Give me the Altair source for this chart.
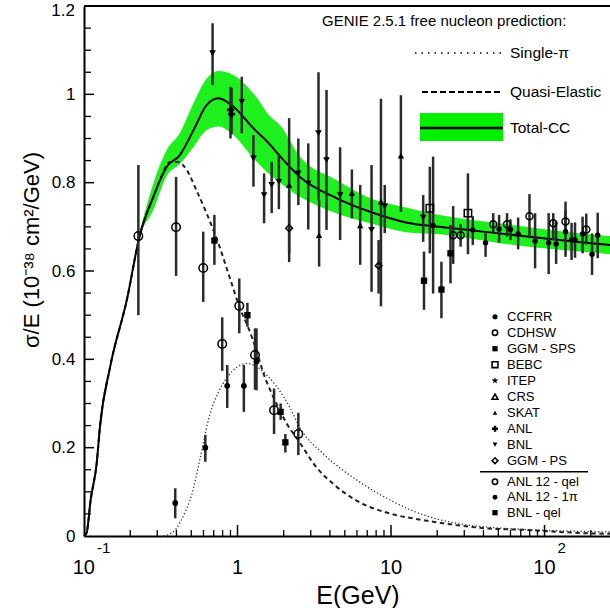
import altair as alt
import pandas as pd

FONT = "Liberation Sans"
GREEN = "#1ef01e"

# ---------------- GENIE predictions ----------------
E_tot = [0.1, 0.104, 0.1105, 0.121, 0.127, 0.148, 0.19, 0.231, 0.283, 0.346, 0.42, 0.517, 0.63,
         0.75, 0.94, 1.27, 1.64, 1.89, 2.55, 4.4, 7.3, 12.5, 20.7, 51, 229, 267]
tot = [0.0, 0.007, 0.082, 0.165, 0.247, 0.383, 0.534, 0.681, 0.768, 0.836, 0.862, 0.919, 0.976,
       0.991, 0.972, 0.923, 0.885, 0.86, 0.813, 0.765, 0.734, 0.71, 0.70, 0.685, 0.661, 0.659]
band_lo = [0.0, 0.007, 0.08, 0.163, 0.245, 0.38, 0.53, 0.676, 0.738, 0.815, 0.842, 0.881, 0.919,
           0.927, 0.908, 0.855, 0.817, 0.80, 0.768, 0.731, 0.708, 0.688, 0.683, 0.663, 0.64, 0.638]
band_hi = [0.0, 0.008, 0.084, 0.167, 0.25, 0.386, 0.54, 0.687, 0.798, 0.874, 0.912, 0.98, 1.036,
           1.053, 1.044, 1.002, 0.949, 0.93, 0.859, 0.806, 0.765, 0.744, 0.727, 0.708, 0.681, 0.679]

E_qe = [0.1, 0.104, 0.1105, 0.121, 0.127, 0.148, 0.19, 0.231, 0.283, 0.32, 0.363, 0.41, 0.466, 0.54,
        0.63, 0.75, 0.89, 1.04, 1.18, 1.33, 1.47, 1.71, 2.09, 2.54, 3.26, 4.2, 5.97, 9.8, 16.2,
        26.4, 43, 72, 197, 267]
qe = [0.0, 0.007, 0.082, 0.165, 0.247, 0.383, 0.534, 0.681, 0.768, 0.815, 0.847, 0.847, 0.829, 0.783,
      0.73, 0.663, 0.585, 0.515, 0.47, 0.42, 0.37, 0.315, 0.255, 0.212, 0.156, 0.118, 0.08, 0.051,
      0.036, 0.025, 0.017, 0.014, 0.006, 0.005]

E_sp = [0.33, 0.36, 0.4, 0.45, 0.5, 0.57, 0.66, 0.75, 0.85, 1.0, 1.15, 1.4, 1.8, 2.2, 2.55, 3.6,
        5.97, 9.8, 16.2, 26.4, 43, 72, 197, 267]
sp = [0.0, 0.004, 0.017, 0.05, 0.09, 0.175, 0.275, 0.325, 0.358, 0.383, 0.391, 0.378, 0.338, 0.29,
      0.245, 0.187, 0.127, 0.082, 0.048, 0.029, 0.02, 0.015, 0.01, 0.009]

# ---------------- measurements ----------------
bnl_E = [0.688, 1.066, 1.27, 1.49, 1.67, 1.86, 2.49, 2.89, 3.37, 3.8, 4.66, 7.47, 9.1, 16.2]
bnl_y = [1.093, 0.983, 0.855, 0.772, 0.795, 0.802, 0.821, 0.798, 0.912, 0.851, 0.772, 0.693, 0.746, 0.721]
bnl_lo = [1.021, 0.912, 0.791, 0.708, 0.731, 0.740, 0.749, 0.694, 0.761, 0.693, 0.670, 0.553, 0.686, 0.666]
bnl_hi = [1.161, 1.040, 0.908, 0.821, 0.847, 0.866, 0.900, 0.889, 1.050, 1.010, 0.880, 0.840, 0.795, 0.772]

skat_E = [2.17, 3.4, 5.56, 6.3, 8.6, 11.6]
skat_y = [0.795, 0.681, 0.777, 0.703, 0.757, 0.861]
skat_lo = [0.64, 0.61, 0.719, 0.614, 0.52, 0.734]
skat_hi = [0.946, 0.761, 0.83, 0.795, 0.99, 0.998]

anl_E = [0.90, 0.915]
anl_y = [0.965, 0.955]
anl_lo = [0.90, 0.91]
anl_hi = [1.017, 1.015]

ggmps_E = [2.17, 8.3]
ggmps_y = [0.697, 0.612]
ggmps_lo = [0.62, 0.549]
ggmps_hi = [0.78, 0.67]

ccfrr_E = [18.8, 34.1, 41.3, 50.6, 60, 67.3, 86.8, 106.4, 119, 137, 150, 158, 177, 204, 222]
ccfrr_y = [0.703, 0.693, 0.664, 0.695, 0.694, 0.684, 0.668, 0.664, 0.661, 0.689, 0.67, 0.67, 0.684, 0.638, 0.681]
ccfrr_lo = [0.549, 0.659, 0.632, 0.664, 0.670, 0.649, 0.606, 0.593, 0.616, 0.632, 0.625, 0.63, 0.64, 0.591, 0.629]
ccfrr_hi = [0.859, 0.724, 0.689, 0.727, 0.717, 0.721, 0.731, 0.731, 0.712, 0.738, 0.709, 0.71, 0.723, 0.685, 0.732]

cdhsw_E = [25.4, 28.4, 46.3, 57, 79.8, 114, 137, 187]
cdhsw_y = [0.681, 0.681, 0.706, 0.706, 0.724, 0.708, 0.712, 0.694]
cdhsw_lo = [0.616, 0.655, 0.685, 0.678, 0.674, 0.670, 0.689, 0.66]
cdhsw_hi = [0.747, 0.706, 0.731, 0.731, 0.774, 0.731, 0.757, 0.73]

bebc_E = [17.9, 31.7]
bebc_y = [0.742, 0.731]
bebc_lo = [0.64, 0.638]
bebc_hi = [0.836, 0.821]

ggmsps_E = [16.4, 21.3, 24.4]
ggmsps_y = [0.578, 0.558, 0.64]
ggmsps_lo = [0.512, 0.493, 0.572]
ggmsps_hi = [0.644, 0.621, 0.704]

anlqel_E = [0.226, 0.398, 0.598, 0.795, 1.027, 1.30, 1.73, 2.49]
anlqel_y = [0.679, 0.699, 0.607, 0.435, 0.521, 0.410, 0.285, 0.231]
anlqel_lo = [0.50, 0.589, 0.53, 0.374, 0.459, 0.331, 0.231, 0.183]
anlqel_hi = [0.84, 0.813, 0.689, 0.495, 0.583, 0.470, 0.334, 0.279]

bnlqel_E = [0.707, 1.16, 1.91, 2.05]
bnlqel_y = [0.669, 0.500, 0.281, 0.212]
bnlqel_lo = [0.614, 0.474, 0.263, 0.189]
bnlqel_hi = [0.727, 0.528, 0.30, 0.231]

anl1pi_E = [0.393, 0.617, 0.857, 1.10, 1.33]
anl1pi_y = [0.075, 0.200, 0.340, 0.340, 0.395]
anl1pi_lo = [0.04, 0.168, 0.29, 0.281, 0.33]
anl1pi_hi = [0.108, 0.229, 0.387, 0.387, 0.47]

legend_top = ["CCFRR", "CDHSW", "GGM - SPS", "BEBC", "ITEP", "CRS", "SKAT", "ANL", "BNL", "GGM - PS"]
legend_bot = ["ANL 12 - qel", "ANL 12 - 1\u03c0", "BNL - qel"]

y_labels = [0, 0.2, 0.4, 0.6, 0.8, 1.0]
x_ticks_major = [1, 10, 100]
x_ticks_minor = [0.2, 0.3, 0.4, 0.5, 0.6, 0.7, 0.8, 0.9, 2, 3, 4, 5, 6, 7, 8, 9,
                 20, 30, 40, 50, 60, 70, 80, 90, 200]
y_ticks_major = [0.2, 0.4, 0.6, 0.8, 1.0]
y_ticks_minor = [0.05, 0.1, 0.15, 0.25, 0.3, 0.35, 0.45, 0.5, 0.55, 0.65, 0.7, 0.75,
                 0.85, 0.9, 0.95, 1.05, 1.1, 1.15]

# ---------------- styles ----------------
STAR = "M0,-1L0.235,-0.324L0.951,-0.309L0.38,0.124L0.588,0.809L0,0.4L-0.588,0.809L-0.38,0.124L-0.951,-0.309L-0.235,-0.324Z"
style = {
    "CCFRR": ("circle", True, 30),
    "CDHSW": ("circle", False, 50),
    "GGM - SPS": ("square", True, 40),
    "BEBC": ("square", False, 55),
    "ITEP": (STAR, True, 45),
    "CRS": ("triangle-up", False, 45),
    "SKAT": ("triangle-up", True, 42),
    "ANL": ("cross", True, 50),
    "BNL": ("triangle-down", True, 45),
    "GGM - PS": ("diamond", False, 45),
    "ANL 12 - qel": ("circle", False, 72),
    "ANL 12 - 1\u03c0": ("circle", True, 34),
    "BNL - qel": ("square", True, 40),
}
legend_size = {
    "CCFRR": 26, "CDHSW": 28, "GGM - SPS": 28, "BEBC": 34, "ITEP": 50, "CRS": 34,
    "SKAT": 22, "ANL": 36, "BNL": 24, "GGM - PS": 34,
    "ANL 12 - qel": 28, "ANL 12 - 1\u03c0": 24, "BNL - qel": 28,
}

series = [
    ("BNL", bnl_E, bnl_y, bnl_lo, bnl_hi),
    ("SKAT", skat_E, skat_y, skat_lo, skat_hi),
    ("ANL", anl_E, anl_y, anl_lo, anl_hi),
    ("GGM - PS", ggmps_E, ggmps_y, ggmps_lo, ggmps_hi),
    ("CCFRR", ccfrr_E, ccfrr_y, ccfrr_lo, ccfrr_hi),
    ("CDHSW", cdhsw_E, cdhsw_y, cdhsw_lo, cdhsw_hi),
    ("BEBC", bebc_E, bebc_y, bebc_lo, bebc_hi),
    ("GGM - SPS", ggmsps_E, ggmsps_y, ggmsps_lo, ggmsps_hi),
    ("ANL 12 - qel", anlqel_E, anlqel_y, anlqel_lo, anlqel_hi),
    ("BNL - qel", bnlqel_E, bnlqel_y, bnlqel_lo, bnlqel_hi),
    ("ANL 12 - 1\u03c0", anl1pi_E, anl1pi_y, anl1pi_lo, anl1pi_hi),
]

xscale = alt.Scale(type="log", domain=[0.1, 267], nice=False)
yscale = alt.Scale(domain=[0, 1.2], nice=False, zero=False)
W, H = 526, 530

xaxis = alt.Axis(labels=False, ticks=False, grid=False, domain=True, domainColor="black",
                 domainWidth=2, title=None)
yaxis = alt.Axis(values=y_labels, format="~g", ticks=False, grid=False,
                 domain=True, domainColor="black", domainWidth=2, labelFont=FONT, labelFontSize=17,
                 labelColor="black", labelPadding=9, title=None)


def X(field):
    return alt.X(field, scale=xscale, axis=xaxis)


def Y(field):
    return alt.Y(field, scale=yscale, axis=yaxis)


df_tot = pd.DataFrame({"E": E_tot, "tot": tot, "lo": band_lo, "hi": band_hi})
df_qe = pd.DataFrame({"E": E_qe, "v": qe})
df_sp = pd.DataFrame({"E": E_sp, "v": sp})

layers = []
layers.append(alt.Chart(df_tot).mark_area(color=GREEN, interpolate="monotone").encode(
    x=X("E:Q"), y=Y("lo:Q"), y2="hi:Q"))
layers.append(alt.Chart(df_sp).mark_line(color="#333", strokeWidth=1.3, strokeDash=[1.3, 2.2],
                                        interpolate="monotone").encode(x=X("E:Q"), y=Y("v:Q")))
layers.append(alt.Chart(df_qe).mark_line(color="#222", strokeWidth=2, strokeDash=[4.5, 3.5],
                                        interpolate="monotone").encode(x=X("E:Q"), y=Y("v:Q")))
layers.append(alt.Chart(df_tot).mark_line(color="black", strokeWidth=2, interpolate="monotone").encode(
    x=X("E:Q"), y=Y("tot:Q")))

# axis ticks (inward)
layers.append(alt.Chart(pd.DataFrame({"E": x_ticks_major})).mark_rule(color="black", strokeWidth=1.5).encode(
    x=X("E:Q"), y=alt.value(H), y2=alt.value(H - 11)))
layers.append(alt.Chart(pd.DataFrame({"E": x_ticks_minor})).mark_rule(color="black", strokeWidth=1.3).encode(
    x=X("E:Q"), y=alt.value(H), y2=alt.value(H - 6)))
layers.append(alt.Chart(pd.DataFrame({"v": y_ticks_major})).mark_rule(color="black", strokeWidth=1.5).encode(
    y=Y("v:Q"), x=alt.value(0), x2=alt.value(10)))
layers.append(alt.Chart(pd.DataFrame({"v": y_ticks_minor})).mark_rule(color="black", strokeWidth=1.3).encode(
    y=Y("v:Q"), x=alt.value(0), x2=alt.value(7)))

one = pd.DataFrame({"k": [0]})
# top frame
layers.append(alt.Chart(one).mark_rule(color="black", strokeWidth=2).encode(
    x=alt.value(0), x2=alt.value(W), y=alt.value(0)))

# error bars then markers
for name, E, y, lo, hi in series:
    d = pd.DataFrame({"E": E, "y": y, "lo": lo, "hi": hi})
    layers.append(alt.Chart(d).mark_rule(color="#2b2b2b", strokeWidth=2.5).encode(
        x=X("E:Q"), y=Y("lo:Q"), y2="hi:Q"))
for name, E, y, lo, hi in series:
    shape, filled, size = style[name]
    d = pd.DataFrame({"E": E, "y": y})
    layers.append(alt.Chart(d).mark_point(shape=shape, filled=filled, size=size, color="black",
                                          strokeWidth=1.5, opacity=1).encode(
        x=X("E:Q"), y=Y("y:Q")))


def txt(label, px, py, size, align="left", angle=0):
    return alt.Chart(one).mark_text(text=label, font=FONT, fontSize=size, align=align,
                                    baseline="middle", angle=angle, color="black").encode(
        x=alt.value(px), y=alt.value(py))


# top y label, kept inside the picture as in the reference
layers.append(txt("1.2", -9, 5, 17, align="right"))

# x tick labels
xl = pd.DataFrame({"E": [1, 10], "t": ["1", "10"]})
layers.append(alt.Chart(xl).mark_text(font=FONT, fontSize=20, align="center", baseline="middle",
                                      color="black").encode(
    x=X("E:Q"), y=alt.value(562), text="t:N"))
xe = pd.DataFrame({"E": [0.1, 100], "b": ["10", "10"], "p": ["-1", "2"]})
layers.append(alt.Chart(xe).mark_text(font=FONT, fontSize=20, align="right", baseline="middle",
                                      dx=11, color="black").encode(
    x=X("E:Q"), y=alt.value(562), text="b:N"))
layers.append(alt.Chart(xe).mark_text(font=FONT, fontSize=15, align="left", baseline="middle",
                                      dx=13, color="black").encode(
    x=X("E:Q"), y=alt.value(542), text="p:N"))

# axis titles
layers.append(txt("E(GeV)", 274, 590, 25, align="center"))
layers.append(txt("\u03c3/E (10\u207b\u00b3\u2078 cm\u00b2/GeV)", -52, 244, 22, align="center", angle=270))

# top legend
layers.append(txt("GENIE 2.5.1  free nucleon prediction:", 238, 15, 15))
layers.append(alt.Chart(one).mark_rule(color="black", strokeWidth=1.5, strokeDash=[1.5, 5]).encode(
    x=alt.value(331), x2=alt.value(418), y=alt.value(47)))
layers.append(alt.Chart(one).mark_rule(color="black", strokeWidth=2, strokeDash=[6, 3]).encode(
    x=alt.value(338), x2=alt.value(418), y=alt.value(86)))
layers.append(alt.Chart(one).mark_rect(color="#00f000").encode(
    x=alt.value(336), x2=alt.value(419), y=alt.value(107), y2=alt.value(135)))
layers.append(alt.Chart(one).mark_rule(color="black", strokeWidth=2.5).encode(
    x=alt.value(336), x2=alt.value(419), y=alt.value(122)))
layers.append(txt("Single-\u03c0", 426, 47, 15.5))
layers.append(txt("Quasi-Elastic", 426, 86, 15.5))
layers.append(txt("Total-CC", 426, 122, 15.5))

# right legend
for i, lab in enumerate(legend_top):
    py = 310.7 + 16 * i
    shape, filled, size = style[lab]
    layers.append(alt.Chart(one).mark_point(shape=shape, filled=filled, size=legend_size[lab],
                                            color="black", strokeWidth=1.6, opacity=1).encode(
        x=alt.value(411), y=alt.value(py)))
    layers.append(txt(lab, 423, py, 13))
layers.append(alt.Chart(one).mark_rule(color="black", strokeWidth=1.5).encode(
    x=alt.value(396), x2=alt.value(504), y=alt.value(465.7)))
for i, lab in enumerate(legend_bot):
    py = 475.7 + 15.5 * i
    shape, filled, size = style[lab]
    layers.append(alt.Chart(one).mark_point(shape=shape, filled=filled, size=legend_size[lab],
                                            color="black", strokeWidth=1.6, opacity=1).encode(
        x=alt.value(411), y=alt.value(py)))
    layers.append(txt(lab, 423, py, 13))

chart = alt.layer(*layers).properties(
    width=W, height=H,
    padding={"left": 84, "top": 6, "right": 0, "bottom": 72},
    autosize=alt.AutoSizeParams(type="none"),
    background="white",
).configure_view(stroke=None)

chart.save("out.html", embed_options={"renderer": "svg", "actions": False})
